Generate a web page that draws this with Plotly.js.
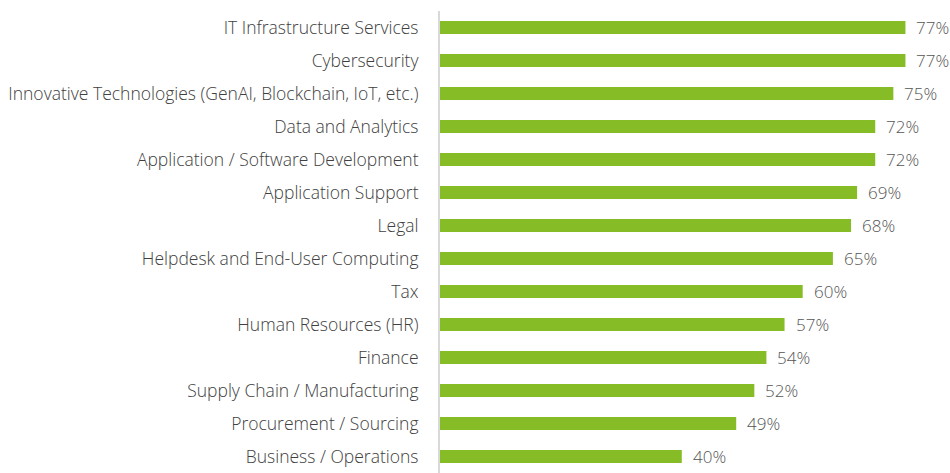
<!DOCTYPE html>
<html>
<head>
<meta charset="utf-8">
<script src="https://cdn.plot.ly/plotly-3.0.1.min.js"></script>
<style>html,body{margin:0;padding:0;background:#fff;}#chart{width:950px;height:473px;}</style>
</head>
<body>
<div id="chart"></div>
<script>
const categories = [
  "IT Infrastructure Services",
  "Cybersecurity",
  "Innovative Technologies (GenAI, Blockchain, IoT, etc.)",
  "Data and Analytics",
  "Application / Software Development",
  "Application Support",
  "Legal",
  "Helpdesk and End-User Computing",
  "Tax",
  "Human Resources (HR)",
  "Finance",
  "Supply Chain / Manufacturing",
  "Procurement / Sourcing",
  "Business / Operations"
];
const values = [77, 77, 75, 72, 72, 69, 68, 65, 60, 57, 54, 52, 49, 40];
const valueLabels = values.map(v => v + "%");

const trace = {
  type: "bar",
  orientation: "h",
  y: categories,
  x: values,
  marker: {color: "#86BC25"},
  width: 0.39,
  hoverinfo: "none"
};

const annotations = categories.map((c, i) => ({
  x: values[i], y: c, xref: "x", yref: "y",
  text: valueLabels[i], showarrow: false,
  xanchor: "left", yanchor: "middle", xshift: 9,
  font: {family: "Open Sans", size: 17, color: "#555555", weight: 300}
}));

const layout = {
  width: 950, height: 473,
  margin: {l: 440, r: 0, t: 11, b: 0, pad: 0},
  paper_bgcolor: "#ffffff", plot_bgcolor: "#ffffff",
  showlegend: false,
  annotations: annotations,
  xaxis: {range: [0, 84.37], visible: false, fixedrange: true},
  yaxis: {
    autorange: "reversed",
    showline: true, linecolor: "#d9d9d9", linewidth: 2,
    showgrid: false, zeroline: false, ticks: "",
    ticklabelstandoff: 16,
    tickfont: {family: "Open Sans", size: 17.5, color: "#404040", weight: 300}
  }
};

Plotly.newPlot("chart", [trace], layout, {displayModeBar: false, staticPlot: true});
</script>
</body>
</html>
